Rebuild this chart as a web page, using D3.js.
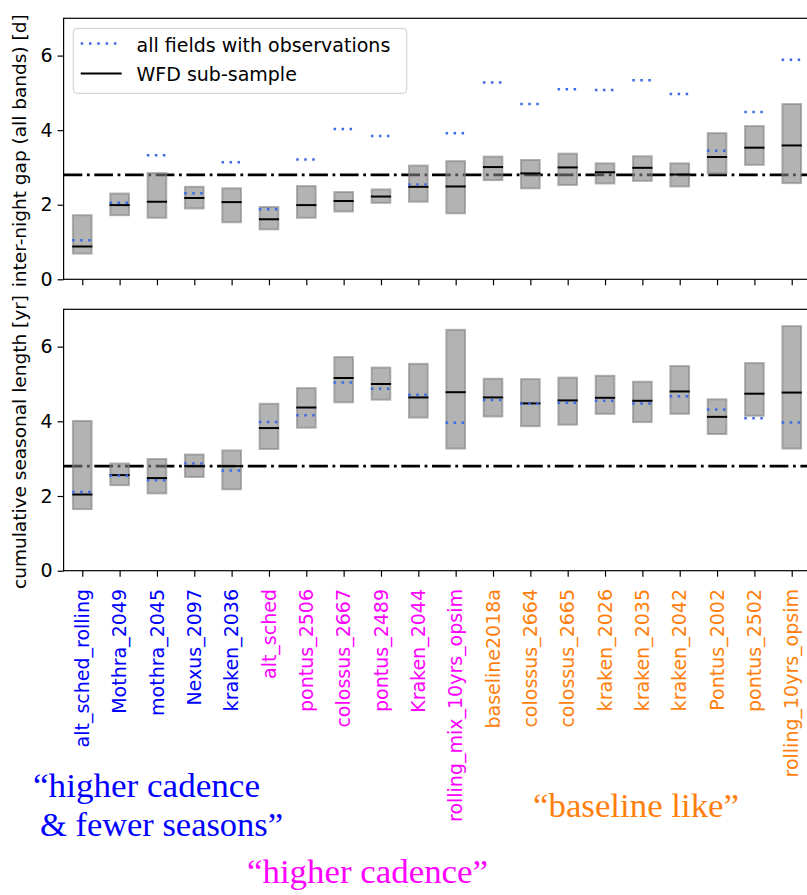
<!DOCTYPE html>
<html lang="en">
<head>
    <meta charset="utf-8">
    <title>Inter-night gap and season length per OpSim run</title>
    <script type="text/javascript" src="https://d3js.org/d3.v7.min.js"></script>
    <style type="text/css">
        body { margin: 0; background: #fff; }
        text { font-family: "DejaVu Sans", sans-serif; }
        .note { font-family: "Liberation Serif", "DejaVu Serif", serif; }
    </style>
</head>
<body>
<script type="text/javascript">

    // simulation names along the x axis and their group
    var runs = ["alt_sched_rolling", "Mothra_2049", "mothra_2045", "Nexus_2097", "kraken_2036",
        "alt_sched", "pontus_2506", "colossus_2667", "pontus_2489", "Kraken_2044",
        "rolling_mix_10yrs_opsim", "baseline2018a", "colossus_2664", "colossus_2665", "kraken_2026",
        "kraken_2035", "kraken_2042", "Pontus_2002", "pontus_2502", "rolling_10yrs_opsim"];
    var groups = [0, 0, 0, 0, 0, 1, 1, 1, 1, 1, 1, 2, 2, 2, 2, 2, 2, 2, 2, 2];

    // inter-night gap [d]
    var gapLow  = [0.69, 1.72, 1.65, 1.90, 1.53, 1.34, 1.65, 1.82, 2.05, 2.08, 1.77, 2.66, 2.44, 2.53, 2.57, 2.64, 2.49, 2.84, 3.07, 2.58];
    var gapHigh = [1.72, 2.30, 2.85, 2.48, 2.44, 1.94, 2.50, 2.34, 2.41, 3.05, 3.17, 3.29, 3.20, 3.37, 3.11, 3.30, 3.11, 3.92, 4.11, 4.70];
    var gapWfd  = [0.88, 1.99, 2.08, 2.18, 2.07, 1.61, 1.99, 2.10, 2.22, 2.48, 2.49, 3.01, 2.84, 3.00, 2.87, 2.99, 2.81, 3.28, 3.53, 3.59];
    var gapAll  = [1.05, 2.05, 3.33, 2.31, 3.14, 1.88, 3.21, 4.03, 3.84, 2.54, 3.92, 5.28, 4.70, 5.10, 5.08, 5.34, 4.97, 3.45, 4.49, 5.89];

    // cumulative seasonal length [yr]
    var seasonLow  = [1.65, 2.29, 2.07, 2.51, 2.18, 3.26, 3.83, 4.51, 4.58, 4.10, 3.27, 4.13, 3.87, 3.91, 4.20, 3.98, 4.20, 3.66, 4.15, 3.27];
    var seasonHigh = [4.01, 2.87, 2.99, 3.11, 3.22, 4.47, 4.89, 5.72, 5.44, 5.54, 6.45, 5.14, 5.13, 5.17, 5.22, 5.06, 5.48, 4.59, 5.56, 6.55];
    var seasonWfd  = [2.04, 2.56, 2.48, 2.80, 2.80, 3.82, 4.37, 5.16, 5.00, 4.64, 4.78, 4.64, 4.48, 4.56, 4.63, 4.55, 4.80, 4.12, 4.74, 4.77];
    var seasonAll  = [2.11, 2.54, 2.42, 2.87, 2.68, 3.98, 4.16, 5.04, 4.87, 4.71, 3.96, 4.57, 4.47, 4.50, 4.55, 4.48, 4.67, 4.32, 4.08, 3.97];

    var refLine = 2.8;
    var yTicks = [0, 2, 4, 6];
    var groupColors = ["#0000ff", "#ff00ff", "#ff7f0e"];

    var width = 807, height = 895;

    var svg = d3.select("body").append("svg")
        .attr("width", width)
        .attr("height", height);

    var x = d3.scaleLinear().domain([-0.5, 19.5]).range([63.6, 810.4]);

    function drawPanel(top, bottom, lo, hi, wfd, all, label, showLegend) {
        var y = d3.scaleLinear().domain([0, 7]).range([bottom, top]);
        var g = svg.append("g");
        var idx = d3.range(runs.length);

        // reference level
        g.append("line")
            .attr("x1", x(-0.5)).attr("x2", x(19.5))
            .attr("y1", y(refLine)).attr("y2", y(refLine))
            .attr("stroke", "#000")
            .attr("stroke-width", 2.8)
            .attr("stroke-dasharray", "18.7,4.6,2.8,4.6");

        // boxes
        g.selectAll(".box").data(idx).enter()
            .append("rect")
            .attr("x", function(i) { return x(i - 0.25); })
            .attr("width", x(0.25) - x(-0.25))
            .attr("y", function(i) { return y(hi[i]); })
            .attr("height", function(i) { return y(lo[i]) - y(hi[i]); })
            .attr("fill", "#808080")
            .attr("fill-opacity", 0.6)
            .attr("stroke", "#808080")
            .attr("stroke-opacity", 0.6)
            .attr("stroke-width", 2);

        // WFD median
        g.selectAll(".wfd").data(idx).enter()
            .append("line")
            .attr("x1", function(i) { return x(i - 0.27); })
            .attr("x2", function(i) { return x(i + 0.27); })
            .attr("y1", function(i) { return y(wfd[i]); })
            .attr("y2", function(i) { return y(wfd[i]); })
            .attr("stroke", "#000")
            .attr("stroke-width", 2);

        // all fields
        g.selectAll(".all").data(idx).enter()
            .append("line")
            .attr("x1", function(i) { return x(i - 0.27); })
            .attr("x2", function(i) { return x(i + 0.27); })
            .attr("y1", function(i) { return y(all[i]); })
            .attr("y2", function(i) { return y(all[i]); })
            .attr("stroke", "#4169e1")
            .attr("stroke-width", 2.5)
            .attr("stroke-dasharray", "2.5,5.5");

        // frame
        g.append("rect")
            .attr("x", x(-0.5)).attr("y", top)
            .attr("width", x(19.5) - x(-0.5)).attr("height", bottom - top)
            .attr("fill", "none")
            .attr("stroke", "#000")
            .attr("stroke-width", 1.2);

        // axes
        var yAxis = g.append("g")
            .attr("transform", "translate(" + x(-0.5) + ",0)")
            .call(d3.axisLeft(y).tickValues(yTicks).tickFormat(d3.format("d")).tickSize(6).tickPadding(5));
        yAxis.select(".domain").remove();
        yAxis.selectAll("line").attr("stroke-width", 1.2);
        yAxis.selectAll("text")
            .attr("font-size", 19)
            .attr("font-family", "DejaVu Sans")
            .attr("fill", "#000");

        var xAxis = g.append("g")
            .attr("transform", "translate(0," + bottom + ")")
            .call(d3.axisBottom(x).tickValues(idx).tickSize(6).tickFormat(""));
        xAxis.select(".domain").remove();
        xAxis.selectAll("line").attr("stroke-width", 1.2);

        g.append("text")
            .attr("transform", "translate(26," + ((top + bottom) / 2 + 2) + ") rotate(-90)")
            .attr("text-anchor", "middle")
            .attr("font-size", 18.5)
            .text(label);

        if (showLegend) {
            var lg = g.append("g");
            lg.append("rect")
                .attr("x", 73.3).attr("y", 28.3)
                .attr("width", 333.4).attr("height", 65)
                .attr("rx", 4)
                .attr("fill", "#fff")
                .attr("fill-opacity", 0.8)
                .attr("stroke", "#d6d6d6")
                .attr("stroke-width", 1.2);
            lg.append("line")
                .attr("x1", 80.7).attr("x2", 121.7)
                .attr("y1", 43.5).attr("y2", 43.5)
                .attr("stroke", "#4169e1")
                .attr("stroke-width", 2.5)
                .attr("stroke-dasharray", "2.5,5.8");
            lg.append("line")
                .attr("x1", 80.7).attr("x2", 121.7)
                .attr("y1", 73.5).attr("y2", 73.5)
                .attr("stroke", "#000")
                .attr("stroke-width", 2);
            lg.append("text")
                .attr("x", 136.5).attr("y", 51.5)
                .attr("font-size", 19)
                .text("all fields with observations");
            lg.append("text")
                .attr("x", 136.5).attr("y", 81)
                .attr("font-size", 19)
                .text("WFD sub-sample");
        }
        return y;
    }

    drawPanel(18.3, 279.3, gapLow, gapHigh, gapWfd, gapAll, "inter-night gap (all bands) [d]", true);
    drawPanel(309.3, 570.7, seasonLow, seasonHigh, seasonWfd, seasonAll, "cumulative seasonal length [yr]", false);

    // run names under the lower panel
    svg.selectAll(".runname").data(runs).enter()
        .append("text")
        .attr("transform", function(d, i) { return "translate(" + x(i) + ",589) rotate(-90)"; })
        .attr("text-anchor", "end")
        .attr("dy", "0.35em")
        .attr("font-size", 19)
        .attr("fill", function(d, i) { return groupColors[groups[i]]; })
        .text(function(d) { return d; });

    // group notes
    var notes = [
        { t: "\u201chigher cadence", x: 33, y: 797, w: 227, c: 0 },
        { t: "& fewer seasons\u201d", x: 40, y: 836, w: 243, c: 0 },
        { t: "\u201chigher cadence\u201d", x: 247, y: 883, w: 241, c: 1 },
        { t: "\u201cbaseline like\u201d", x: 533, y: 817, w: 206, c: 2 }
    ];
    svg.selectAll(".note").data(notes).enter()
        .append("text")
        .attr("class", "note")
        .attr("x", function(d) { return d.x; })
        .attr("y", function(d) { return d.y; })
        .attr("font-size", 34)
        .attr("textLength", function(d) { return d.w; })
        .attr("lengthAdjust", "spacingAndGlyphs")
        .attr("fill", function(d) { return groupColors[d.c]; })
        .text(function(d) { return d.t; });

</script>
</body>
</html>
